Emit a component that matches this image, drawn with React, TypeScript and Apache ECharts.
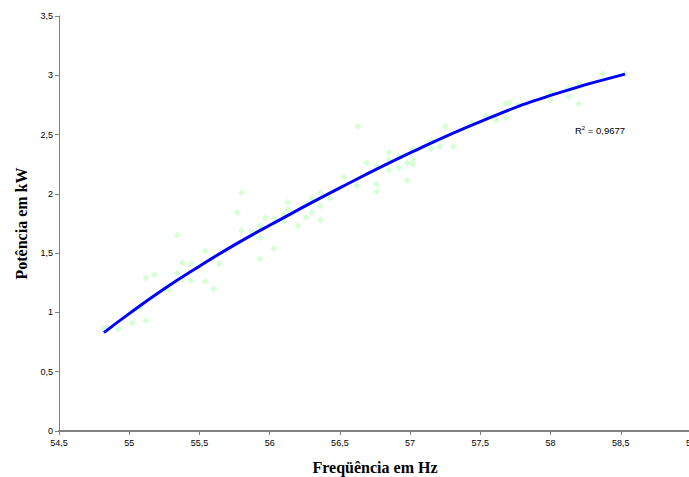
import React, { useEffect, useRef } from "react";
import * as echarts from "echarts";

const freqHz = [
  54.82, 54.92, 55.02, 55.12, 55.08, 55.12, 55.18, 55.28, 55.34, 55.34,
  55.38, 55.38, 55.44, 55.44, 55.54, 55.54, 55.6, 55.64, 55.8, 55.77,
  55.8, 55.87, 55.93, 55.93, 55.93, 55.97, 56.03, 56.03, 56.1, 56.1,
  56.13, 56.13, 56.2, 56.26, 56.26, 56.3, 56.3, 56.36, 56.36, 56.36,
  56.43, 56.53, 56.62, 56.63, 56.69, 56.76, 56.76, 56.76, 56.85, 56.85,
  56.85, 56.92, 56.92, 56.98, 56.98, 57.02, 57.02, 57.02, 57.15, 57.15,
  57.21, 57.25, 57.31, 57.44, 57.54, 57.61, 57.68, 57.71, 57.68, 57.77,
  58.0, 58.0, 58.13, 58.13, 58.2, 58.2, 58.37, 58.53,
];
const powerKW = [
  0.87, 0.86, 0.91, 0.93, 1.04, 1.29, 1.32, 1.19, 1.65, 1.33,
  1.42, 1.28, 1.41, 1.27, 1.52, 1.26, 1.2, 1.41, 2.01, 1.84,
  1.69, 1.68, 1.73, 1.63, 1.45, 1.8, 1.79, 1.54, 1.83, 1.77,
  1.93, 1.87, 1.73, 1.91, 1.8, 1.96, 1.84, 2.01, 1.9, 1.78,
  1.96, 2.14, 2.07, 2.57, 2.26, 2.24, 2.08, 2.02, 2.35, 2.29,
  2.2, 2.32, 2.22, 2.26, 2.11, 2.38, 2.29, 2.25, 2.45, 2.38,
  2.4, 2.57, 2.4, 2.6, 2.66, 2.62, 2.76, 2.77, 2.64, 2.75,
  2.86, 2.79, 2.89, 2.82, 2.93, 2.76, 3.01, 3.01,
];

// trend line
const trendX = [54.82, 55.0, 55.25, 55.5, 55.75, 56.0, 56.5, 57.0, 57.5, 58.0, 58.53];
const trendY = [0.83, 0.99, 1.2, 1.39, 1.57, 1.735, 2.05, 2.345, 2.61, 2.83, 3.01];

const xTitle = "Freqüência em Hz";
const yTitle = "Potência em kW";
const r2Text = "0,9677";

export default function App() {
  const ref = useRef<HTMLDivElement>(null);
  useEffect(() => {
    if (!ref.current) return;
    const chart = echarts.init(ref.current, null, { renderer: "svg" });
    const fmt = (v: number) => String(v).replace(".", ",");
    const axisLabel = {
      fontFamily: "'Liberation Sans', Arial, sans-serif",
      fontSize: 9,
      color: "#000",
      formatter: fmt,
    };
    const nameStyle = {
      fontFamily: "'Liberation Serif', 'Times New Roman', serif",
      fontSize: 16,
      fontWeight: "bold" as const,
      color: "#000",
    };
    chart.setOption({
      animation: false,
      backgroundColor: "#fff",
      grid: { left: 59, top: 16, right: -2, bottom: 46, containLabel: false, outerBoundsMode: "none" },
      xAxis: {
        type: "value",
        min: 54.5,
        max: 59,
        interval: 0.5,
        name: xTitle,
        nameLocation: "middle",
        nameGap: 28,
        nameTextStyle: nameStyle,
        axisLine: { show: true, onZero: false, lineStyle: { color: "#808080", width: 2 } },
        axisTick: { show: true, length: 4, lineStyle: { color: "#808080" } },
        axisLabel: { ...axisLabel, margin: 7, showMaxLabel: true, showMinLabel: true },
        splitLine: { show: false },
      },
      yAxis: {
        type: "value",
        min: 0,
        max: 3.5,
        interval: 0.5,
        name: yTitle,
        nameLocation: "middle",
        nameGap: 30,
        nameTextStyle: nameStyle,
        axisLine: { show: true, onZero: false, lineStyle: { color: "#808080", width: 1 } },
        axisTick: { show: true, length: 4, lineStyle: { color: "#808080" } },
        axisLabel: { ...axisLabel, margin: 6 },
        splitLine: { show: false },
      },
      graphic: [
        {
          type: "text",
          left: 575,
          top: 125,
          style: {
            text: "R{sup|2} = " + r2Text,
            font: "9.5px 'Liberation Sans', Arial, sans-serif",
            fill: "#000",
            rich: {
              sup: {
                fontSize: 6,
                verticalAlign: "top",
                padding: [0, 0, 4, 0],
                fontFamily: "'Liberation Sans', Arial, sans-serif",
              },
            },
          },
        },
      ],
      series: [
        {
          type: "scatter",
          symbol: "diamond",
          symbolSize: 7,
          itemStyle: { color: "#ccffcc" },
          data: freqHz.map((x, i) => [x, powerKW[i]]),
          z: 1,
        },
        {
          type: "line",
          smooth: true,
          showSymbol: false,
          symbol: "none",
          lineStyle: { color: "#0000ff", width: 3 },
          data: trendX.map((x, i) => [x, trendY[i]]),
          z: 2,
        },
      ],
    });
    return () => chart.dispose();
  }, []);
  return (
    <div
      ref={ref}
      style={{ position: "fixed", left: 0, top: 0, width: 689, height: 477, overflow: "hidden" }}
    />
  );
}
